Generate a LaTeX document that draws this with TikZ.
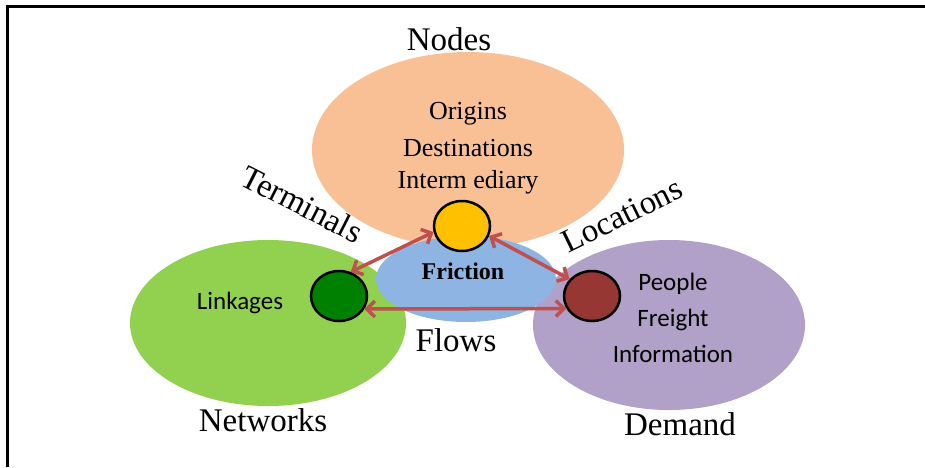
\documentclass[tikz,border=0pt]{standalone}
\usepackage{fontspec}
\setmainfont{Liberation Serif}
\setsansfont{Carlito}
\usetikzlibrary{shapes.geometric,arrows.meta}
\definecolor{peach}{RGB}{249,192,150}
\definecolor{leaf}{RGB}{146,208,80}
\definecolor{lilac}{RGB}{177,160,199}
\definecolor{sky}{RGB}{141,180,226}
\definecolor{gold}{RGB}{255,192,0}
\definecolor{forest}{RGB}{0,128,0}
\definecolor{brick}{RGB}{150,55,52}
\definecolor{linkred}{RGB}{192,80,77}
\begin{document}
\begin{tikzpicture}[x=1pt,y=-1pt]
    \tikzstyle{every node}+=[inner sep=0pt]
    \tikzstyle{blob}=[ellipse, draw=none]
    \tikzstyle{spot}=[ellipse, draw=black, line width=2.5pt, minimum width=56pt, minimum height=50pt]
    \tikzstyle{link}=[draw=linkred, line width=3.5pt, >={Straight Barb[length=8pt,width=16pt]}, <->]
    \tikzstyle{title}=[font=\rmfamily\fontsize{33}{36}\selectfont]
    \tikzstyle{serifbody}=[font=\rmfamily\fontsize{26}{30}\selectfont]
    \tikzstyle{sansbody}=[align=center, font=\sffamily\fontsize{25}{36}\selectfont]
    \useasboundingbox (0,0) rectangle (925,467);
    \draw [black, line width=3pt] (7,467) -- (7,6) -- (925,6);
    \node [blob, fill=peach, minimum width=312pt, minimum height=196pt] (nodes) at (468,150) {};
    \node [blob, fill=leaf, minimum width=276pt, minimum height=166pt] (networks) at (268,323) {};
    \node [blob, fill=lilac, minimum width=272pt, minimum height=170pt] (demand) at (669,325) {};
    \node [blob, fill=sky, minimum width=180pt, minimum height=86pt] (flows) at (466,279) {};
    \node [title] (lblnodes) at (449,39) {Nodes};
    \node [serifbody] (origins) at (468,114) {Origins};
    \node [serifbody] (destinations) at (468,148) {Destinations};
    \node [serifbody] (intermediary) at (468,182) {Interm ediary};
    \node [title, rotate=-27] (terminals) at (302,204) {Terminals};
    \node [title, rotate=26] (locations) at (622,215) {Locations};
    \node [font=\rmfamily\bfseries\fontsize{24}{26}\selectfont] (friction) at (463,271) {Friction};
    \node [sansbody] (linkages) at (240,303) {Linkages};
    \node [sansbody] (people) at (673,318) {People\\Freight\\Information};
    \node [title] (lblflows) at (456,340) {Flows};
    \node [title] (lblnetworks) at (263,420) {Networks};
    \node [title] (lbldemand) at (680,424) {Demand};
    \node [spot, fill=gold] (yel) at (462,226) {};
    \node [spot, fill=forest] (grn) at (339,296) {};
    \node [spot, fill=brick] (red) at (592,296) {};
    \draw [link] (yel.192) -- (grn.64);
    \draw [link] (yel.340) -- (red.143);
    \draw [link] (grn.333) -- (red.206);
\end{tikzpicture}
\end{document}
